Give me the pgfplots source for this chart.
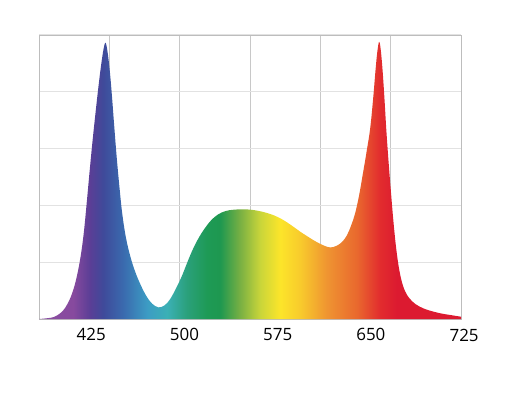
\documentclass[border=0pt]{standalone}
\usepackage{fontspec}
\setmainfont{Open Sans}
\usepackage{pgfplots}
\pgfplotsset{compat=1.18}

\definecolor{gridv}{HTML}{C8C8C8}
\definecolor{gridh}{HTML}{E2E2E2}
\definecolor{frame}{HTML}{BDBDBD}

% spectrum colours, left to right
\definecolor{s01}{HTML}{8A4FA2}
\definecolor{s02}{HTML}{874A9E}
\definecolor{s03}{HTML}{5A3E96}
\definecolor{s04}{HTML}{3F4A9A}
\definecolor{s05}{HTML}{3A6AAE}
\definecolor{s06}{HTML}{3C9CC4}
\definecolor{s07}{HTML}{3BB0B5}
\definecolor{s08}{HTML}{2AA07A}
\definecolor{s09}{HTML}{1E9A55}
\definecolor{s10}{HTML}{1E9850}
\definecolor{s11}{HTML}{79B043}
\definecolor{s12}{HTML}{C9D53A}
\definecolor{s13}{HTML}{FCE52A}
\definecolor{s14}{HTML}{F8CB2C}
\definecolor{s15}{HTML}{EF9431}
\definecolor{s16}{HTML}{E9682E}
\definecolor{s17}{HTML}{E22C2E}
\definecolor{s18}{HTML}{DC1A30}

\pgfdeclarehorizontalshading{spectrum}{100bp}{
  color(0bp)=(s01); color(25bp)=(s01); color(29.03bp)=(s02);
  color(31.04bp)=(s03); color(32.58bp)=(s04); color(34.95bp)=(s05);
  color(37.80bp)=(s06); color(40.17bp)=(s07); color(42.54bp)=(s08);
  color(44.91bp)=(s09); color(46.45bp)=(s10); color(48.82bp)=(s11);
  color(51.18bp)=(s12); color(53.55bp)=(s13); color(55.92bp)=(s14);
  color(59.12bp)=(s15); color(62.68bp)=(s16); color(65.40bp)=(s17);
  color(67.42bp)=(s18); color(75bp)=(s18); color(100bp)=(s18)}

\pgfplotstableread{
wl   val
383.2 0
390.0 0.3
395.0 0.7
400.0 2.0
404.0 3.9
408.0 7.2
411.5 11.6
414.5 17.2
417.0 23.5
419.2 31.0
421.3 40.5
423.5 51.0
425.8 61.5
428.2 71.5
430.6 81.0
433.0 89.5
435.0 95.2
436.5 97.3
438.0 94.5
439.8 88.0
441.6 79.0
443.5 68.0
445.5 57.0
447.6 47.0
450.0 37.0
453.0 28.5
456.5 22.0
460.5 16.5
465.0 11.8
469.5 8.0
474.0 5.4
479.1 4.1
484.0 4.8
488.5 7.0
493.5 11.0
498.0 15.2
502.0 19.6
506.0 23.8
510.0 27.4
514.0 30.4
518.0 32.9
522.0 35.0
527.0 36.8
533.0 38.0
540.0 38.5
550.0 38.6
558.0 38.2
565.0 37.5
572.0 36.5
579.0 35.0
586.0 33.0
593.0 30.8
600.0 28.8
606.0 27.2
612.0 25.9
617.2 25.2
622.0 25.7
626.5 27.0
630.5 29.3
634.0 32.8
637.3 37.2
640.5 43.5
643.5 51.0
646.5 58.8
649.4 67.0
651.8 77.5
653.8 88.0
655.3 94.5
656.7 97.6
658.0 94.5
659.5 87.0
661.0 77.0
662.5 66.0
664.2 55.5
666.0 45.5
667.8 36.0
669.8 27.0
672.0 19.5
674.5 13.8
677.5 9.8
681.0 7.3
686.0 5.2
693.0 3.6
700.3 2.6
707.0 1.9
714.0 1.4
722.5 0.8
}\spectrumdata

\begin{document}
\begin{tikzpicture}
\useasboundingbox (-39bp,-83bp) rectangle (474bp,319bp);
\begin{axis}[
    at={(0,0)}, anchor=south west,
    width=422bp, height=284bp, scale only axis,
    xmin=383, xmax=722.5,
    ymin=0, ymax=100,
    xtick={383,439.5833,496.1667,552.75,609.3333,665.9167,722.5},
    xticklabels={},
    ytick={0,20,...,100},
    yticklabels={},
    major tick length=0pt,
    xmajorgrids, ymajorgrids,
    x grid style={gridv, line width=0.8bp},
    y grid style={gridh, line width=1bp},
    axis line style={frame, line width=0.8bp},
    extra x ticks={425,500,575,650},
    extra x tick labels={425,500,575,650},
    extra x tick style={grid=none, major tick length=0pt},
    tick label style={font=\fontsize{17}{20}\selectfont, text=black},
    xticklabel style={yshift=-6bp},
    /pgf/number format/assume math mode=true,
    clip=false,
]
\addplot[draw=none, shading=spectrum, shade, smooth, tension=0.6]
    table[x=wl, y=val] {\spectrumdata} \closedcycle;
\node[anchor=north, font=\fontsize{17}{20}\selectfont, inner sep=0pt]
    at (axis cs:725,0) [yshift=-10bp] {725};
\end{axis}
\end{tikzpicture}
\end{document}
